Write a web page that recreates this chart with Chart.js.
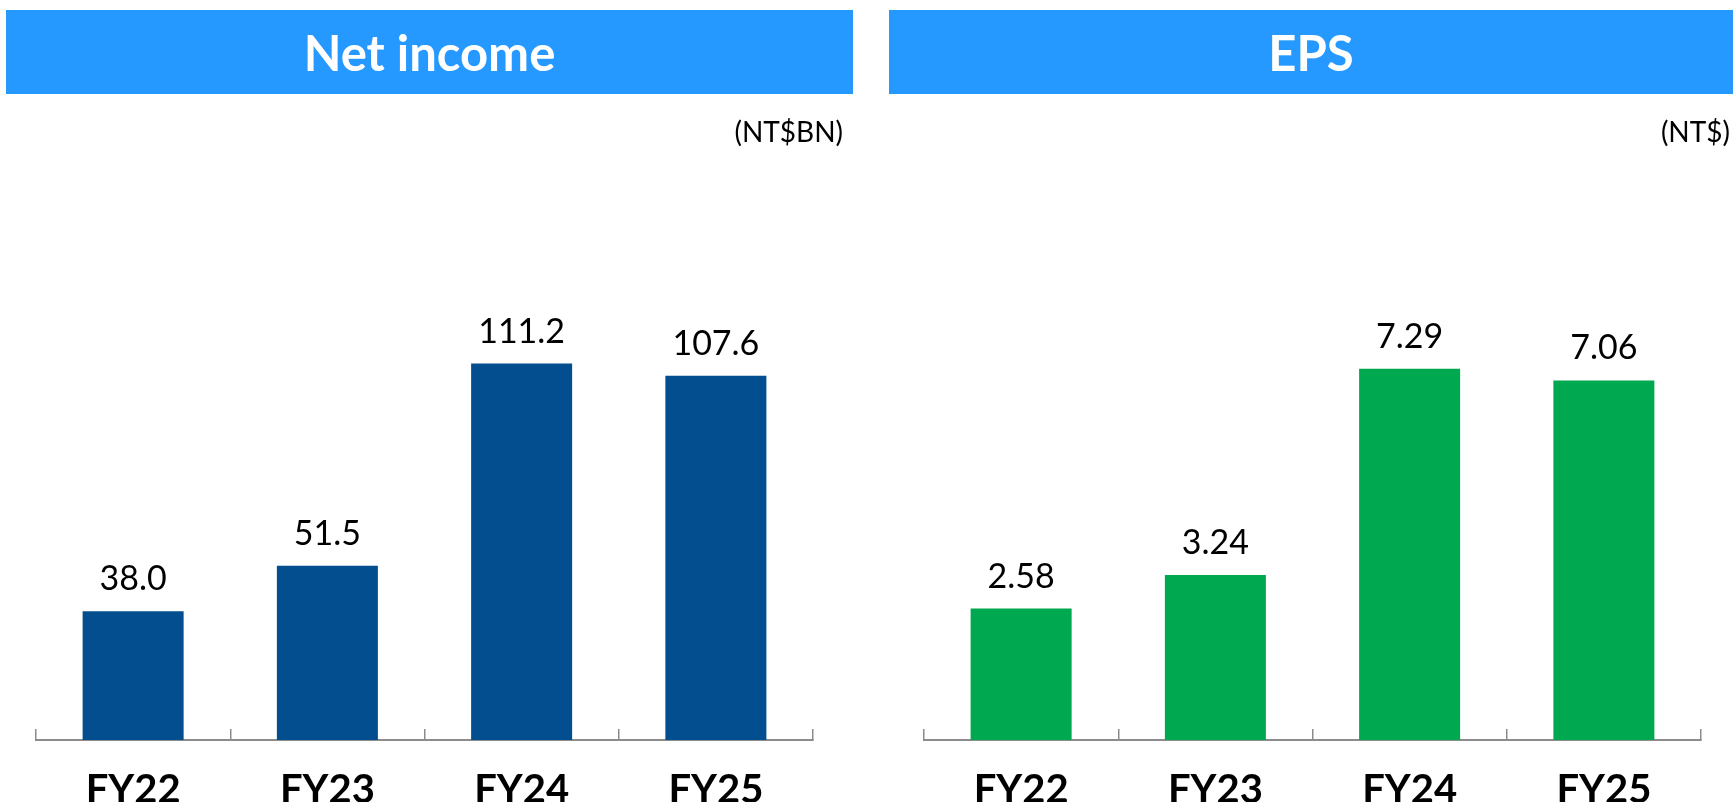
<!DOCTYPE html>
<html>
<head>
<meta charset="utf-8">
<script src="https://cdn.jsdelivr.net/npm/chart.js@4/dist/chart.umd.min.js"></script>
<style>
  html, body { margin:0; padding:0; background:#fff; }
  body { width:1733px; height:802px; overflow:hidden; position:relative; font-family: Lato, "Open Sans", sans-serif; }
  .hdr { position:absolute; top:10px; height:84px; background:#2599ff; color:#fff; font-weight:700; font-size:49px;
         display:flex; align-items:center; justify-content:center; z-index:2; }
  .unit { position:absolute; font-size:28px; color:#000; z-index:2; line-height:32px; top:115px; text-align:right; }
  .box { position:absolute; top:123px; height:728px; z-index:1; }
</style>
</head>
<body>
<div class="hdr" style="left:6px;width:847px;">Net income</div>
<div class="hdr" style="left:889px;width:844px;">EPS</div>
<div class="unit" style="left:600px;width:243px;">(NT$BN)</div>
<div class="unit" style="left:1480px;width:250px;">(NT$)</div>
<div class="box" style="left:0px;width:860px;"><canvas id="c1"></canvas></div>
<div class="box" style="left:870px;width:863px;"><canvas id="c2"></canvas></div>
<script>
const categories = ['FY22', 'FY23', 'FY24', 'FY25'];
const netIncome = [38.0, 51.5, 111.2, 107.6];
const eps = [2.58, 3.24, 7.29, 7.06];
const netIncomeDecimals = 1;
const epsDecimals = 2;

const valueLabels = {
  id: 'valueLabels',
  afterDatasetsDraw(chart, args, opts) {
    const ctx = chart.ctx;
    const meta = chart.getDatasetMeta(0);
    const data = chart.data.datasets[0].data;
    ctx.save();
    ctx.font = '34px Lato';
    ctx.fillStyle = '#000';
    ctx.textAlign = 'center';
    ctx.textBaseline = 'alphabetic';
    meta.data.forEach((bar, i) => {
      ctx.fillText(data[i].toFixed(opts.decimals), bar.x, bar.y - 21);
    });
    ctx.restore();
  }
};

function makeChart(id, values, color, yMax, decimals, padL, padR) {
  return new Chart(document.getElementById(id), {
    type: 'bar',
    data: {
      labels: categories,
      datasets: [{ data: values, backgroundColor: color, borderWidth: 0,
                   categoryPercentage: 1.0, barPercentage: 0.52 }]
    },
    options: {
      responsive: true,
      maintainAspectRatio: false,
      animation: false,
      layout: { padding: { left: padL, right: padR, top: 11, bottom: 0 } },
      plugins: { legend: { display: false }, tooltip: { enabled: false }, valueLabels: { decimals } },
      scales: {
        x: {
          grid: { display: true, drawOnChartArea: false, drawTicks: true, tickLength: -11,
                  color: '#8c8c8c', lineWidth: 1.5, offset: true },
          border: { display: true, color: '#8c8c8c', width: 2 },
          ticks: { color: '#000', font: { family: 'Lato', weight: 'bold', size: 40 }, padding: 37 }
        },
        y: { display: false, min: 0, max: yMax }
      }
    },
    plugins: [valueLabels]
  });
}

makeChart('c1', netIncome, '#034e8f', 179, netIncomeDecimals, 36, 47);
makeChart('c2', eps, '#00a850', 11.9, epsDecimals, 54, 32);
</script>
</body>
</html>
